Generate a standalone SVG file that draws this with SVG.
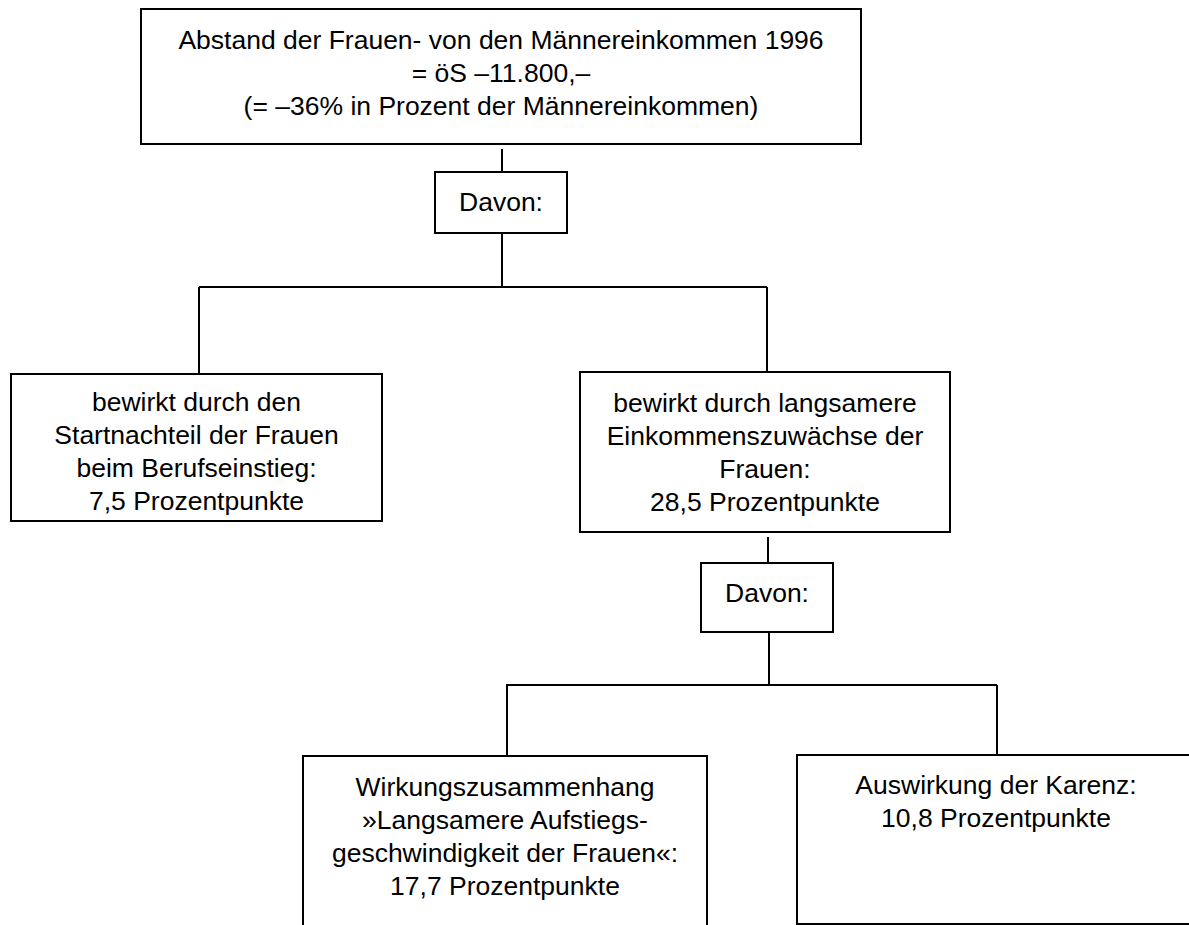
<svg xmlns="http://www.w3.org/2000/svg" width="1189" height="925" viewBox="0 0 1189 925">
<style>
.box{fill:#fff;stroke:#000;stroke-width:2}
.ln{fill:none;stroke:#000;stroke-width:2}
text{font-family:"Liberation Sans",Arial,sans-serif;font-size:26.5px;fill:#000;text-anchor:middle}
</style>
<rect width="1189" height="925" fill="#fff"/>
<g id="connectors">
<path class="ln" d="M502 149V172M502 233V287M199 287H767M199 287V374M767 287V372"/>
<path class="ln" d="M768 537V563M769 632V685M506 685H997M507 685V756M997 685V755"/>
</g>
<g id="top">
<rect class="box" x="141" y="9" width="720" height="135"/>
<text x="501" y="49">Abstand der Frauen- von den Männereinkommen 1996</text>
<text x="501" y="82">= öS –11.800,–</text>
<text x="501" y="115">(= –36% in Prozent der Männereinkommen)</text>
</g>
<g id="davon1">
<rect class="box" x="435" y="172" width="132" height="61"/>
<text x="501" y="211">Davon:</text>
</g>
<g id="start">
<rect class="box" x="11" y="374" width="371" height="147"/>
<text x="196.5" y="411">bewirkt durch den</text>
<text x="196.5" y="444">Startnachteil der Frauen</text>
<text x="196.5" y="477">beim Berufseinstieg:</text>
<text x="196.5" y="510">7,5 Prozentpunkte</text>
</g>
<g id="zuwachs">
<rect class="box" x="580" y="372" width="370" height="160"/>
<text x="765" y="412">bewirkt durch langsamere</text>
<text x="765" y="445">Einkommenszuwächse der</text>
<text x="765" y="478">Frauen:</text>
<text x="765" y="511">28,5 Prozentpunkte</text>
</g>
<g id="davon2">
<rect class="box" x="701" y="563" width="132" height="69"/>
<text x="767" y="602">Davon:</text>
</g>
<g id="aufstieg">
<rect class="box" x="303" y="756" width="404" height="200"/>
<text x="505" y="796">Wirkungszusammenhang</text>
<text x="505" y="829">»Langsamere Aufstiegs-</text>
<text x="505" y="862">geschwindigkeit der Frauen«:</text>
<text x="505" y="895">17,7 Prozentpunkte</text>
</g>
<g id="karenz">
<rect class="box" x="797" y="755" width="398" height="169"/>
<text x="996" y="794">Auswirkung der Karenz:</text>
<text x="996" y="827">10,8 Prozentpunkte</text>
</g>
</svg>
